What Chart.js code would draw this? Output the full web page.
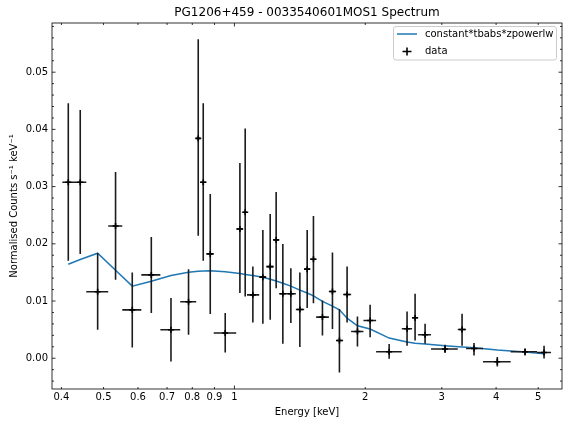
<!DOCTYPE html>
<html><head><meta charset="utf-8">
<script src="https://cdn.jsdelivr.net/npm/chart.js@4.4.0/dist/chart.umd.min.js"></script>
<style>html,body{margin:0;padding:0;background:#fff;}#wrap{width:568px;height:424px;}</style>
</head><body><div id="wrap"><canvas id="c" width="568" height="424"></canvas></div>
<script>
const titleText = "PG1206+459 - 0033540601MOS1 Spectrum";
const xLabel = "Energy [keV]";
const yLabel = "Normalised Counts s\u207B\u00B9 keV\u207B\u00B9";
const modelName = "constant*tbabs*zpowerlw";
const dataName = "data";

// bin centres (keV)
const energy = [0.4148,0.4419,0.4846,0.5328,0.5821,0.6439,0.7146,0.7843,0.8256,0.8478,
  0.8799,0.9525,1.0295,1.0588,1.1027,1.1627,1.2087,1.2475,1.2925,1.3485,
  1.4144,1.4704,1.5200,1.5942,1.6810,1.7442,1.8166,1.9190,2.0521,2.2700,
  2.4957,2.6041,2.7458,3.0522,3.3400,3.5583,4.0255,4.6628,5.1565];
// bin edges (keV)
const energyEdges = [0.4019,0.4281,0.4563,0.5126,0.5521,0.6107,0.6755,0.7506,0.8169,0.8346,
  0.8615,0.8962,1.0096,1.0477,1.0690,1.1402,1.1834,1.2313,1.2675,1.3155,
  1.3848,1.4469,1.4936,1.5419,1.6496,1.7140,1.7787,1.8558,1.9810,2.1184,
  2.4271,2.5632,2.6459,2.8341,3.2650,3.4117,3.7315,4.3214,4.9668,5.3513];
// normalised counts
const counts = [0.03075,0.03075,0.01161,0.02312,0.00846,0.01457,0.00497,0.00986,0.03843,0.03075,
  0.01824,0.00440,0.02260,0.02551,0.01108,0.01417,0.01602,0.02068,0.01126,0.01126,
  0.00852,0.01557,0.01731,0.00719,0.01166,0.00311,0.01113,0.00468,0.00660,0.00113,
  0.00515,0.00707,0.00410,0.00161,0.00503,0.00171,-0.00061,0.00113,0.00101];
const countsLow = [0.01702,0.01824,0.00497,0.01370,0.00188,0.00789,-0.00056,0.00410,0.02143,0.01702,
  0.00771,0.00101,0.01138,0.01079,0.00625,0.00602,0.00672,0.01225,0.00253,0.00614,
  0.00195,0.00876,0.00963,0.00398,0.00510,-0.00248,0.00625,0.00206,0.00366,-0.00009,
  0.00218,0.00311,0.00253,0.00091,0.00218,0.00049,-0.00143,0.00049,-0.00003];
const countsHigh = [0.04459,0.04337,0.01841,0.03255,0.01497,0.02120,0.01051,0.01557,0.05576,0.04459,
  0.02871,0.00789,0.03412,0.04014,0.01602,0.02243,0.02522,0.02906,0.01998,0.01574,
  0.01497,0.02243,0.02487,0.01009,0.01846,0.00859,0.01602,0.00730,0.00934,0.00248,
  0.00817,0.01126,0.00602,0.00236,0.00777,0.00265,0.00021,0.00171,0.00218];
// model curve at bin centres
const model = [0.01644,0.01725,0.01836,0.01537,0.01260,0.01347,0.01445,0.01504,0.01522,0.01525,
  0.01527,0.01510,0.01480,0.01465,0.01445,0.01417,0.01380,0.01350,0.01310,0.01260,
  0.01190,0.01140,0.01090,0.00995,0.00910,0.00846,0.00700,0.00567,0.00510,0.00352,
  0.00283,0.00260,0.00248,0.00218,0.00195,0.00183,0.00143,0.00108,0.00079];

const xTicks = [0.4,0.5,0.6,0.7,0.8,0.9,1,2,3,4,5];
const xTickLabels = ["0.4","0.5","0.6","0.7","0.8","0.9","1","2","3","4","5"];
const xMajorTicks = [1];
const yTicks = [0,0.01,0.02,0.03,0.04,0.05];
const yTickLabels = ["0.00","0.01","0.02","0.03","0.04","0.05"];
const yMinorStep = 0.002;
const xRange = [0.3805, 5.671];
const yRange = [-0.00538, 0.0586];

// build datasets from arrays
const hBars = [], vBars = [];
energy.forEach((e,i)=>{
  hBars.push({x:energyEdges[i],y:counts[i]},{x:energyEdges[i+1],y:counts[i]},{x:energyEdges[i+1],y:null});
  vBars.push({x:e,y:countsLow[i]},{x:e,y:countsHigh[i]},{x:e,y:null});
});
const modelPts = energy.map((e,i)=>({x:e,y:model[i]}));
const dataPts = energy.map((e,i)=>({x:e,y:counts[i]}));

const FONT = "'DejaVu Sans', sans-serif";

const decor = {
  id:'decor',
  afterDatasetsDraw(chart){
    const {ctx, chartArea:a, scales:{x,y}} = chart;
    ctx.save();
    ctx.strokeStyle='#000'; ctx.lineWidth=0.8;
    ctx.beginPath();
    xTicks.forEach(v=>{
      const px = x.getPixelForValue(v);
      const L = xMajorTicks.includes(v)?3.5:2;
      ctx.moveTo(px,a.bottom); ctx.lineTo(px,a.bottom-L);
      ctx.moveTo(px,a.top); ctx.lineTo(px,a.top+L);
    });
    yTicks.forEach(v=>{
      const py = y.getPixelForValue(v);
      ctx.moveTo(a.left,py); ctx.lineTo(a.left+3.5,py);
      ctx.moveTo(a.right,py); ctx.lineTo(a.right-3.5,py);
    });
    for(let k=Math.ceil(yRange[0]/yMinorStep);k*yMinorStep<=yRange[1];k++){
      const v=k*yMinorStep;
      if (Math.abs(v/0.01-Math.round(v/0.01))<1e-6) continue;
      const py=y.getPixelForValue(v);
      ctx.moveTo(a.left,py); ctx.lineTo(a.left+2,py);
      ctx.moveTo(a.right,py); ctx.lineTo(a.right-2,py);
    }
    ctx.stroke();
    ctx.strokeRect(a.left,a.top,a.right-a.left,a.bottom-a.top);
    // title
    ctx.fillStyle='#000';
    ctx.font="12px "+FONT;
    ctx.textAlign='center'; ctx.textBaseline='middle';
    ctx.fillText(titleText,(a.left+a.right)/2,13);
    // legend
    const bx=393.5, by=26.5, bw=163, bh=33.5, r=2.5;
    ctx.beginPath();
    ctx.moveTo(bx+r,by); ctx.lineTo(bx+bw-r,by); ctx.arcTo(bx+bw,by,bx+bw,by+r,r);
    ctx.lineTo(bx+bw,by+bh-r); ctx.arcTo(bx+bw,by+bh,bx+bw-r,by+bh,r);
    ctx.lineTo(bx+r,by+bh); ctx.arcTo(bx,by+bh,bx,by+bh-r,r);
    ctx.lineTo(bx,by+r); ctx.arcTo(bx,by,bx+r,by,r); ctx.closePath();
    ctx.fillStyle='rgba(255,255,255,0.8)'; ctx.fill();
    ctx.strokeStyle='#cccccc'; ctx.lineWidth=1; ctx.stroke();
    ctx.strokeStyle='#1f77b4'; ctx.lineWidth=1.5;
    ctx.beginPath(); ctx.moveTo(397,34); ctx.lineTo(417,34); ctx.stroke();
    ctx.strokeStyle='#000'; ctx.lineWidth=1.6;
    ctx.beginPath(); ctx.moveTo(402.5,51.5); ctx.lineTo(411.5,51.5); ctx.moveTo(407,47.5); ctx.lineTo(407,55.5); ctx.stroke();
    ctx.fillStyle='#000'; ctx.font="10px "+FONT; ctx.textAlign='left';
    ctx.fillText(modelName,425,34);
    ctx.fillText(dataName,425,51.5);
    ctx.restore();
  }
};

new Chart(document.getElementById('c'),{
  type:'scatter',
  data:{datasets:[
    {label:dataName, type:'scatter', data:dataPts, pointStyle:'cross', pointRadius:3, pointHoverRadius:3,
     borderColor:'#000', backgroundColor:'#000', borderWidth:1.6, order:0},
    {label:'xerr', type:'line', data:hBars, borderColor:'#1c1c1c', borderWidth:1.6,
     pointRadius:0, spanGaps:false, fill:false, tension:0, order:1},
    {label:'yerr', type:'line', data:vBars, borderColor:'#1c1c1c', borderWidth:1.6,
     pointRadius:0, spanGaps:false, fill:false, tension:0, order:2},
    {label:modelName, type:'line', data:modelPts, borderColor:'#1f77b4', borderWidth:1.5,
     pointRadius:0, fill:false, tension:0, order:3}
  ]},
  options:{
    responsive:false, animation:false, devicePixelRatio:1,
    layout:{padding:{left:0,top:23,right:6,bottom:0}},
    plugins:{legend:{display:false}, tooltip:{enabled:false}, title:{display:false}},
    scales:{
      x:{type:'logarithmic', min:xRange[0], max:xRange[1],
        grid:{display:false, drawTicks:false}, border:{display:false},
        afterBuildTicks(s){ s.ticks = xTicks.map(v=>({value:v})); },
        afterFit(s){ s.height = 35; },
        ticks:{autoSkip:false, maxRotation:0, padding:2, color:'#000', font:{family:FONT,size:10},
          callback(v){ const i=xTicks.indexOf(v); return i>=0?xTickLabels[i]:''; }},
        title:{display:true, text:xLabel, color:'#000', font:{family:FONT,size:10}, padding:{top:0,bottom:6}}
      },
      y:{type:'linear', min:yRange[0], max:yRange[1],
        grid:{display:false, drawTicks:false}, border:{display:false},
        afterBuildTicks(s){ s.ticks = yTicks.map(v=>({value:v})); },
        afterFit(s){ s.width = 52; },
        ticks:{padding:4, color:'#000', font:{family:FONT,size:10},
          callback(v){ const i=yTicks.findIndex(t=>Math.abs(t-v)<1e-9); return i>=0?yTickLabels[i]:''; }},
        title:{display:true, text:yLabel, color:'#000', font:{family:FONT,size:10}, padding:{top:8,bottom:0}}
      }
    }
  },
  plugins:[decor]
});
</script></body></html>
